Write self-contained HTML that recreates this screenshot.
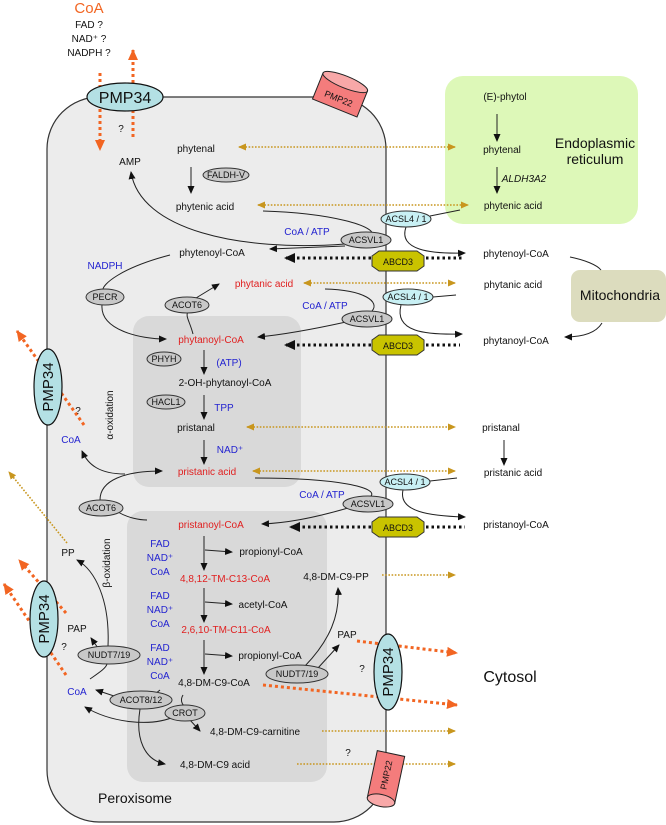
<!DOCTYPE html>
<html><head><meta charset="utf-8"><style>
html,body{margin:0;padding:0;background:#fff}
svg{display:block;font-family:"Liberation Sans",sans-serif}
.t{font-size:10px;fill:#111}
.b{font-size:10px;fill:#2323d0}
.r{font-size:10px;fill:#e02020}
.e{fill:#c8c8c8;stroke:#333;stroke-width:1}
.el{font-size:9px;fill:#111}
.c{fill:none;stroke:#222;stroke-width:1}
.g{fill:none;stroke:#c8961e;stroke-width:1.6;stroke-dasharray:1.6 1.6}
.o{fill:none;stroke:#f26522;stroke-width:3;stroke-dasharray:3 3}
.k{fill:none;stroke:#111;stroke-width:3;stroke-dasharray:2.5 3}
</style></head><body>
<svg width="666" height="825" viewBox="0 0 666 825" xmlns="http://www.w3.org/2000/svg">
<defs>
<marker id="a" markerWidth="8" markerHeight="8" refX="7" refY="4" orient="auto" markerUnits="userSpaceOnUse"><path d="M0,0.5 L8,4 L0,7.5z" fill="#111"/></marker>
<marker id="ga" markerWidth="8" markerHeight="8" refX="7" refY="4" orient="auto" markerUnits="userSpaceOnUse"><path d="M0,0.5 L8,4 L0,7.5z" fill="#c8961e"/></marker>
<marker id="gs" markerWidth="8" markerHeight="8" refX="1" refY="4" orient="auto" markerUnits="userSpaceOnUse"><path d="M8,0.5 L0,4 L8,7.5z" fill="#c8961e"/></marker>
<marker id="oa" markerWidth="12" markerHeight="12" refX="10" refY="6" orient="auto" markerUnits="userSpaceOnUse"><path d="M0,1 L11,6 L0,11z" fill="#f26522"/></marker>
<marker id="ka" markerWidth="12" markerHeight="12" refX="10" refY="6" orient="auto" markerUnits="userSpaceOnUse"><path d="M0,1 L11,6 L0,11z" fill="#111"/></marker>
</defs>

<!-- compartments -->
<rect x="47" y="97" width="339" height="725" rx="52" ry="52" fill="#ececec" stroke="#333" stroke-width="1.2"/>
<rect x="445" y="76" width="193" height="148" rx="18" fill="#ddf8b8"/>
<rect x="571" y="270" width="95" height="52" rx="9" fill="#dcdcbe"/>
<rect x="133" y="316" width="168" height="171" rx="16" fill="#d9d9d9"/>
<rect x="127" y="511" width="200" height="271" rx="16" fill="#d9d9d9"/>

<!-- top texts -->
<text x="89" y="13" font-size="15" fill="#f26522" text-anchor="middle">CoA</text>
<text x="89" y="28" class="t" text-anchor="middle" font-size="9.5">FAD ?</text>
<text x="89" y="42" class="t" text-anchor="middle" font-size="9.5">NAD⁺ ?</text>
<text x="89" y="56" class="t" text-anchor="middle" font-size="9.5">NADPH ?</text>
<path class="o" d="M100,73 L100,150" marker-end="url(#oa)"/>
<path class="o" d="M133,137 L133,50" marker-end="url(#oa)"/>

<!-- PMP34 top -->
<ellipse cx="125" cy="97" rx="38" ry="14" fill="#b4e0e4" stroke="#111" stroke-width="1.2"/>
<text x="125" y="103" font-size="16" text-anchor="middle" fill="#111">PMP34</text>
<!-- PMP22 top -->
<g transform="translate(340,95) rotate(22)">
<rect x="-24" y="-14" width="48" height="28" fill="#f47c7c" stroke="#222"/>
<ellipse cx="0" cy="-14" rx="24" ry="6" fill="#f8a8a8" stroke="#222"/>
<text x="0" y="7" font-size="9" text-anchor="middle" fill="#111">PMP22</text>
</g>

<text x="121" y="132" class="t" font-size="12" text-anchor="middle">?</text>
<text x="130" y="165" class="t" text-anchor="middle">AMP</text>

<!-- peroxisome upper -->
<text x="196" y="152" class="t" text-anchor="middle">phytenal</text>
<ellipse cx="226" cy="175" rx="23" ry="7" class="e"/><text x="226" y="178" class="el" text-anchor="middle">FALDH-V</text>
<path class="c" d="M191,167 L191,193" marker-end="url(#a)"/>
<text x="205" y="210" class="t" text-anchor="middle">phytenic acid</text>
<path class="g" d="M239,147 L455,147" marker-start="url(#gs)" marker-end="url(#ga)"/>
<path class="g" d="M258,205 L468,205" marker-start="url(#gs)" marker-end="url(#ga)"/>

<!-- ER -->
<text x="505" y="100" class="t" text-anchor="middle">(E)-phytol</text>
<path class="c" d="M497,114 L497,141" marker-end="url(#a)"/>
<text x="502" y="153" class="t" text-anchor="middle">phytenal</text>
<path class="c" d="M497,167 L497,193" marker-end="url(#a)"/>
<text x="524" y="182" class="t" font-style="italic" text-anchor="middle">ALDH3A2</text>
<text x="513" y="209" class="t" text-anchor="middle">phytenic acid</text>
<text x="595" y="148" font-size="14" fill="#111" text-anchor="middle">Endoplasmic</text>
<text x="595" y="164" font-size="14" fill="#111" text-anchor="middle">reticulum</text>

<!-- phytenoyl block -->
<path class="c" d="M263,211 C330,213 378,226 372,236"/>
<path class="c" d="M345,244 C240,252 140,230 131,172" marker-end="url(#a)"/>
<path class="c" d="M345,246 L270,249" marker-end="url(#a)"/>
<path class="c" d="M460,210 L430,216"/>
<path class="c" d="M406,227 C398,250 430,254 465,253" marker-end="url(#a)"/>
<ellipse cx="406" cy="219" rx="25" ry="8" fill="#c8f0f4" stroke="#333"/><text x="406" y="222" class="el" text-anchor="middle">ACSL4 / 1</text>
<text x="307" y="235" class="b" text-anchor="middle">CoA / ATP</text>
<ellipse cx="366" cy="240" rx="25" ry="8" class="e"/><text x="366" y="243" class="el" text-anchor="middle">ACSVL1</text>
<text x="212" y="256" class="t" text-anchor="middle">phytenoyl-CoA</text>
<text x="105" y="269" class="b" text-anchor="middle">NADPH</text>
<path class="k" d="M371,258 L285,258" marker-end="url(#ka)"/>
<path class="k" d="M426,258 L463,258"/>
<text x="516" y="257" class="t" text-anchor="middle">phytenoyl-CoA</text>
<path class="c" d="M570,257 C585,260 597,265 601,270"/>

<!-- phytanic -->
<text x="264" y="287" class="r" text-anchor="middle">phytanic acid</text>
<path class="g" d="M304,283 L455,283" marker-start="url(#gs)" marker-end="url(#ga)"/>
<text x="513" y="288" class="t" text-anchor="middle">phytanic acid</text>
<text x="620" y="300" font-size="14" fill="#111" text-anchor="middle">Mitochondria</text>
<path class="c" d="M170,255 C120,268 102,285 103,290"/>
<path class="c" d="M102,305 C100,330 140,339 166,339" marker-end="url(#a)"/>
<ellipse cx="105" cy="297" rx="19" ry="8" class="e"/><text x="105" y="300" class="el" text-anchor="middle">PECR</text>
<path class="c" d="M193,334 C190,322 185,316 188,312"/>
<path class="c" d="M196,298 L219,284" marker-end="url(#a)"/>
<ellipse cx="187" cy="305" rx="22" ry="8" class="e"/><text x="187" y="308" class="el" text-anchor="middle">ACOT6</text>
<text x="325" y="309" class="b" text-anchor="middle">CoA / ATP</text>
<path class="c" d="M325,289 C365,290 380,302 372,311"/>
<path class="c" d="M346,322 C305,331 280,335 258,337" marker-end="url(#a)"/>
<ellipse cx="367" cy="319" rx="25" ry="8" class="e"/><text x="367" y="322" class="el" text-anchor="middle">ACSVL1</text>
<path class="c" d="M456,295 L433,297"/>
<path class="c" d="M401,305 C394,332 425,335 462,334" marker-end="url(#a)"/>
<ellipse cx="408" cy="297" rx="25" ry="8" fill="#c8f0f4" stroke="#333"/><text x="408" y="300" class="el" text-anchor="middle">ACSL4 / 1</text>
<path class="c" d="M602,323 C596,333 583,337 565,337" marker-end="url(#a)"/>
<text x="211" y="343" class="r" text-anchor="middle">phytanoyl-CoA</text>
<path class="k" d="M371,345 L285,345" marker-end="url(#ka)"/>
<path class="k" d="M426,345 L460,345"/>
<text x="516" y="344" class="t" text-anchor="middle">phytanoyl-CoA</text>

<!-- alpha -->
<ellipse cx="164" cy="359" rx="17" ry="7" class="e"/><text x="164" y="362" class="el" text-anchor="middle">PHYH</text>
<path class="c" d="M204,350 L204,374" marker-end="url(#a)"/>
<text x="229" y="366" class="b" text-anchor="middle">(ATP)</text>
<text x="225" y="386" class="t" text-anchor="middle">2-OH-phytanoyl-CoA</text>
<ellipse cx="166" cy="402" rx="19" ry="7" class="e"/><text x="166" y="405" class="el" text-anchor="middle">HACL1</text>
<path class="c" d="M204,395 L204,419" marker-end="url(#a)"/>
<text x="224" y="411" class="b" text-anchor="middle">TPP</text>
<text x="196" y="431" class="t" text-anchor="middle">pristanal</text>
<path class="g" d="M247,427 L455,427" marker-start="url(#gs)" marker-end="url(#ga)"/>
<text x="501" y="431" class="t" text-anchor="middle">pristanal</text>
<path class="c" d="M504,440 L504,465" marker-end="url(#a)"/>
<path class="c" d="M204,440 L204,464" marker-end="url(#a)"/>
<text x="230" y="453" class="b" text-anchor="middle">NAD⁺</text>
<text x="207" y="475" class="r" text-anchor="middle">pristanic acid</text>
<path class="g" d="M253,471 L455,471" marker-start="url(#gs)" marker-end="url(#ga)"/>
<text x="513" y="476" class="t" text-anchor="middle">pristanic acid</text>
<text x="113" y="415" class="t" text-anchor="middle" transform="rotate(-90 113 415)">α-oxidation</text>

<!-- left PMP34 upper -->
<path class="o" d="M84,425 L17,331" marker-end="url(#oa)"/>
<ellipse cx="48" cy="387" rx="14" ry="38" fill="#b4e0e4" stroke="#111" stroke-width="1.2"/>
<text x="53" y="387" font-size="15" text-anchor="middle" fill="#111" transform="rotate(-90 53 387)">PMP34</text>
<text x="78" y="414" class="t" font-size="12" text-anchor="middle">?</text>
<text x="71" y="443" class="b" text-anchor="middle">CoA</text>

<!-- pristanoyl -->
<path class="c" d="M255,478 C340,478 378,488 371,496"/>
<path class="c" d="M348,508 C310,519 285,523 262,524" marker-end="url(#a)"/>
<path class="c" d="M457,478 L430,481"/>
<path class="c" d="M403,490 C398,512 430,516 465,517" marker-end="url(#a)"/>
<ellipse cx="405" cy="482" rx="25" ry="8" fill="#c8f0f4" stroke="#333"/><text x="405" y="485" class="el" text-anchor="middle">ACSL4 / 1</text>
<text x="322" y="498" class="b" text-anchor="middle">CoA / ATP</text>
<ellipse cx="368" cy="504" rx="25" ry="8" class="e"/><text x="368" y="507" class="el" text-anchor="middle">ACSVL1</text>
<path class="c" d="M100,500 C100,480 125,471 162,471" marker-end="url(#a)"/>
<path class="c" d="M125,474 C100,474 88,465 82,451" marker-end="url(#a)"/>
<path class="c" d="M118,512 C128,518 140,520 147,520"/>
<ellipse cx="101" cy="508" rx="22" ry="8" class="e"/><text x="101" y="511" class="el" text-anchor="middle">ACOT6</text>
<text x="211" y="528" class="r" text-anchor="middle">pristanoyl-CoA</text>
<path class="k" d="M371,527 L290,527" marker-end="url(#ka)"/>
<path class="k" d="M426,527 L465,527"/>
<text x="516" y="528" class="t" text-anchor="middle">pristanoyl-CoA</text>

<!-- ABCD3 octagons -->
<g fill="#c9c300" stroke="#333">
<polygon points="379,251 417,251 424,256 424,266 417,271 379,271 372,266 372,256"/>
<polygon points="379,335 417,335 424,340 424,350 417,355 379,355 372,350 372,340"/>
<polygon points="379,517 417,517 424,522 424,532 417,537 379,537 372,532 372,522"/>
</g>
<text x="398" y="265" class="el" font-size="10" text-anchor="middle">ABCD3</text>
<text x="398" y="349" class="el" font-size="10" text-anchor="middle">ABCD3</text>
<text x="398" y="531" class="el" font-size="10" text-anchor="middle">ABCD3</text>

<!-- beta -->
<text x="110" y="563" class="t" text-anchor="middle" transform="rotate(-90 110 563)">β-oxidation</text>
<g class="b" text-anchor="middle">
<text x="160" y="547">FAD</text><text x="160" y="561">NAD⁺</text><text x="160" y="575">CoA</text>
<text x="160" y="599">FAD</text><text x="160" y="613">NAD⁺</text><text x="160" y="627">CoA</text>
<text x="160" y="651">FAD</text><text x="160" y="665">NAD⁺</text><text x="160" y="679">CoA</text>
</g>
<path class="c" d="M204,536 L204,570" marker-end="url(#a)"/>
<path class="c" d="M205,550 L232,552" marker-end="url(#a)"/>
<text x="271" y="555" class="t" text-anchor="middle">propionyl-CoA</text>
<text x="225" y="582" class="r" text-anchor="middle">4,8,12-TM-C13-CoA</text>
<path class="c" d="M204,588 L204,622" marker-end="url(#a)"/>
<path class="c" d="M205,602 L232,604" marker-end="url(#a)"/>
<text x="263" y="608" class="t" text-anchor="middle">acetyl-CoA</text>
<text x="226" y="633" class="r" text-anchor="middle">2,6,10-TM-C11-CoA</text>
<path class="c" d="M204,640 L204,674" marker-end="url(#a)"/>
<path class="c" d="M205,654 L232,656" marker-end="url(#a)"/>
<text x="270" y="659" class="t" text-anchor="middle">propionyl-CoA</text>
<text x="214" y="686" class="t" text-anchor="middle">4,8-DM-C9-CoA</text>
<text x="336" y="580" class="t" text-anchor="middle">4,8-DM-C9-PP</text>
<path class="g" d="M382,575 L455,575" marker-end="url(#ga)"/>
<text x="347" y="638" class="t" text-anchor="middle">PAP</text>
<path class="c" d="M305,666 C330,640 340,615 338,588" marker-end="url(#a)"/>
<path class="c" d="M318,668 L339,645" marker-end="url(#a)"/>
<ellipse cx="297" cy="674" rx="31" ry="9" class="e"/><text x="297" y="677" class="el" text-anchor="middle">NUDT7/19</text>
<text x="362" y="672" class="t" font-size="12" text-anchor="middle">?</text>
<path class="o" d="M357,641 L457,653" marker-end="url(#oa)"/>
<path class="o" d="M263,685 L457,705" marker-end="url(#oa)"/>
<ellipse cx="388" cy="672" rx="14" ry="38" fill="#b4e0e4" stroke="#111" stroke-width="1.2"/>
<text x="393" y="672" font-size="15" text-anchor="middle" fill="#111" transform="rotate(-90 393 672)">PMP34</text>
<text x="510" y="682" font-size="16" fill="#111" text-anchor="middle">Cytosol</text>

<!-- left lower -->
<path class="g" d="M67,543 L9,472" marker-end="url(#ga)"/>
<text x="68" y="556" class="t" text-anchor="middle">PP</text>
<path class="o" d="M66,613 L19,560" marker-end="url(#oa)"/>
<path class="o" d="M66,675 L4,584" marker-end="url(#oa)"/>
<ellipse cx="44" cy="619" rx="14" ry="38" fill="#b4e0e4" stroke="#111" stroke-width="1.2"/>
<text x="49" y="619" font-size="15" text-anchor="middle" fill="#111" transform="rotate(-90 49 619)">PMP34</text>
<text x="77" y="632" class="t" text-anchor="middle">PAP</text>
<text x="64" y="650" class="t" font-size="12" text-anchor="middle">?</text>
<path class="c" d="M108,646 C110,600 95,570 77,560" marker-end="url(#a)"/>
<path class="c" d="M98,648 L91,638" marker-end="url(#a)"/>
<path class="c" d="M90,679 C100,672 106,668 107,664"/>
<ellipse cx="109" cy="655" rx="31" ry="9" class="e"/><text x="109" y="658" class="el" text-anchor="middle">NUDT7/19</text>
<text x="77" y="695" class="b" text-anchor="middle">CoA</text>
<path class="c" d="M160,690 L155,694"/>
<path class="c" d="M183,695 C180,700 182,704 184,706"/>
<path class="c" d="M120,698 L96,690" marker-end="url(#a)"/>
<path class="c" d="M176,716 C150,728 110,722 85,707" marker-end="url(#a)"/>
<path class="c" d="M190,720 L200,731" marker-end="url(#a)"/>
<path class="c" d="M140,709 C135,740 145,760 165,764" marker-end="url(#a)"/>
<ellipse cx="141" cy="700" rx="31" ry="9" class="e"/><text x="141" y="703" class="el" text-anchor="middle">ACOT8/12</text>
<ellipse cx="185" cy="713" rx="20" ry="8" class="e"/><text x="185" y="716" class="el" text-anchor="middle">CROT</text>
<text x="255" y="735" class="t" text-anchor="middle">4,8-DM-C9-carnitine</text>
<path class="g" d="M322,731 L455,731" marker-end="url(#ga)"/>
<text x="348" y="756" class="t" font-size="12" text-anchor="middle">?</text>
<text x="215" y="768" class="t" text-anchor="middle">4,8-DM-C9 acid</text>
<path class="g" d="M297,764 L455,764" marker-end="url(#ga)"/>
<g transform="translate(386,777) rotate(-78)">
<rect x="-24" y="-14" width="48" height="28" fill="#f47c7c" stroke="#222"/>
<ellipse cx="-24" cy="0" rx="6" ry="14" fill="#f8a8a8" stroke="#222"/>
<text x="2" y="3" font-size="9" text-anchor="middle" fill="#111">PMP22</text>
</g>
<text x="135" y="803" font-size="14" fill="#111" text-anchor="middle">Peroxisome</text>
</svg>
</body></html>
